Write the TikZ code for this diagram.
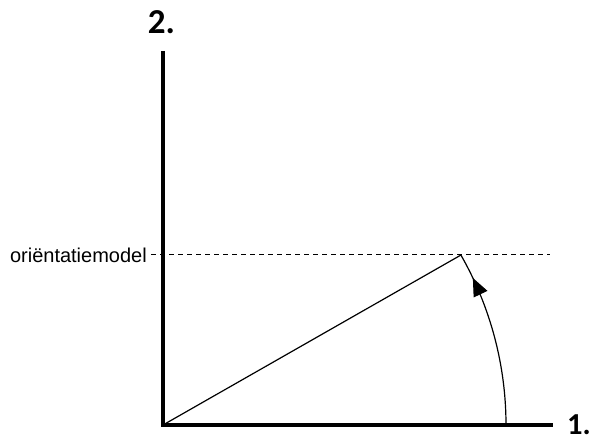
\documentclass[tikz,border=0pt]{standalone}
\usepackage{fontspec}
\setmainfont{Liberation Sans}
\newfontfamily\axisfont{Carlito}
\usepackage{tikz}
\usetikzlibrary{arrows.meta, decorations.markings}

\begin{document}
\begin{tikzpicture}[x=1pt, y=1pt,
    axisline/.style={line width=4pt},
    thinline/.style={line width=1.2pt},
    axislabel/.style={font=\axisfont\bfseries, inner sep=0pt}]
  \useasboundingbox (-163,-13) rectangle (431,425);
  \coordinate (origin) at (0,0);
  \coordinate (ytop) at (0,374);
  \coordinate (xend) at (390,0);
  \coordinate (tip) at (298,170);
  \coordinate (arcstart) at (343,0);
  \coordinate (dashstart) at (-12,170);
  \coordinate (dashend) at (387,170);

  % axes
  \draw[axisline, line join=miter] (ytop) -- (origin) -- (xend);
  \node[axislabel, anchor=base] (ylabel) at (-1.5,391) {\fontsize{35}{35}\selectfont 2.};
  \node[axislabel, anchor=base west] (xlabel) at (404,-9.5) {\fontsize{30.5}{30.5}\selectfont 1.};

  % model level
  \draw[line width=1pt, dash pattern=on 5pt off 4pt] (dashstart) -- (dashend);
  \node[font=\fontsize{20}{24}\selectfont, anchor=east, inner sep=4pt] (model) at (dashstart) {oriëntatiemodel};

  % vector and angle
  \draw[thinline] (origin) -- (tip);
  \draw[thinline, postaction={decorate}, decoration={markings, mark=at position 0.855 with {\arrow{Triangle[length=18pt, width=15pt]}}}] (arcstart) arc[start angle=0, end angle=29.7, radius=343];
\end{tikzpicture}
\end{document}
